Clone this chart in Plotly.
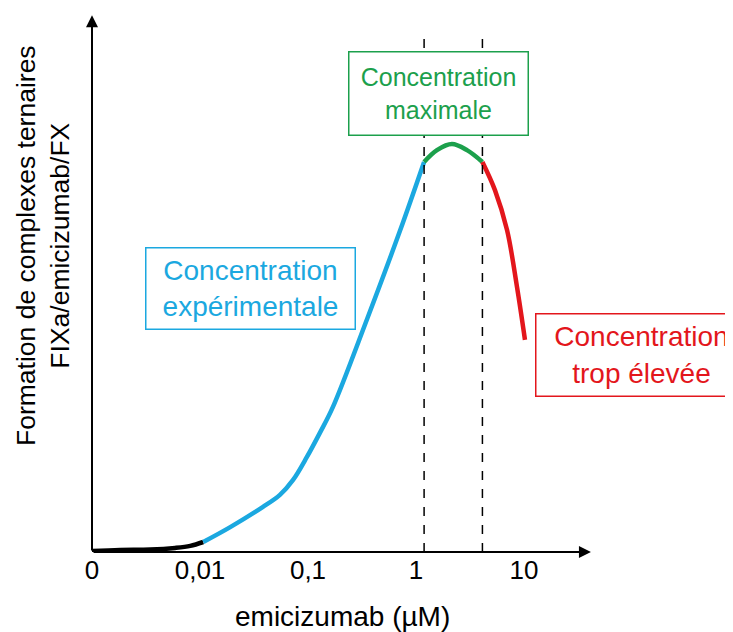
import plotly.graph_objects as go

# x in decades: log10(concentration in µM); "0" is drawn one decade below 0,01
tick_vals = [-3, -2, -1, 0, 1]
tick_text = ["0", "0,01", "0,1", "1", "10"]

# curve segments (y = relative ternary-complex formation, peak = 100)
x_low = [-3, -2.74, -2.46, -2.23, -2.09, -1.97]
y_low = [0.25, 0.5, 0.6, 1.0, 1.5, 2.45]

x_exp = [-1.97, -1.72, -1.42, -1.26, -1.14, -1.01, -0.89, -0.77, -0.45, -0.15, 0.075]
y_exp = [2.45, 6.1, 11.0, 14.0, 17.6, 23.3, 29.2, 35.5, 57.3, 78.6, 95.6]

x_max = [0.075, 0.194, 0.333, 0.472, 0.615]
y_max = [95.6, 98.5, 100, 98.5, 95.6]

x_high = [0.615, 0.731, 0.843, 0.935, 1.009]
y_high = [95.6, 88.7, 78.9, 65.0, 52.0]

dash_x = [0.075, 0.615]

labels = ["Concentration<br>expérimentale",
          "Concentration<br>maximale",
          "Concentration<br>trop élevée"]

BLUE = "#1ba8e0"
GREEN = "#1ca04c"
RED = "#e3161c"
FONT = "Liberation Sans, Arial, sans-serif"

X_RANGE = [-3, -3 + 500 / 108]
Y_RANGE = [0, 538 / 4.08]

fig = go.Figure()

for xs, ys, col in [(x_low, y_low, "black"),
                    (x_exp, y_exp, BLUE),
                    (x_max, y_max, GREEN),
                    (x_high, y_high, RED)]:
    fig.add_trace(go.Scatter(x=xs, y=ys, mode="lines",
                             line=dict(color=col, width=4.5, shape="spline"),
                             hoverinfo="skip", showlegend=False))

# dashed limits of the maximal range
for dx in dash_x:
    fig.add_shape(type="line", x0=dx, x1=dx, y0=0, y1=127.2,
                  line=dict(color="black", width=1.5, dash="dash"))

# axes drawn as arrows
fig.add_annotation(x=X_RANGE[1] - 0.01, y=0, ax=-3, ay=0, axref="x", ayref="y",
                   xref="x", yref="y", text="", showarrow=True,
                   arrowhead=2, arrowsize=1.2, arrowwidth=2, arrowcolor="black")
fig.add_annotation(x=-3, y=Y_RANGE[1] - 0.3, ax=-3, ay=0, axref="x", ayref="y",
                   xref="x", yref="y", text="", showarrow=True,
                   arrowhead=2, arrowsize=1.2, arrowwidth=2, arrowcolor="black")

# labelled boxes
box = dict(showarrow=False, borderpad=0, borderwidth=1.5, bgcolor="white",
           xanchor="center", yanchor="middle")
fig.add_annotation(x=-1.532, y=64.7, xref="x", yref="y", text=labels[0],
                   font=dict(family=FONT, size=28, color=BLUE),
                   width=208, height=80, bordercolor=BLUE, **box)
fig.add_annotation(x=0.204, y=112.5, xref="x", yref="y", text=labels[1],
                   font=dict(family=FONT, size=25, color=GREEN),
                   width=178, height=82, bordercolor=GREEN, **box)
fig.add_annotation(x=(641 - 92) / 500, y=48.3, xref="paper", yref="y", text=labels[2],
                   font=dict(family=FONT, size=28, color=RED),
                   width=210, height=81, bordercolor=RED, **box)

# axis titles
fig.add_annotation(x=0.5, y=(552 - 617) / 538, xref="paper", yref="paper",
                   xanchor="center", yanchor="middle",
                   text="emicizumab (µM)", showarrow=False,
                   font=dict(family=FONT, size=28, color="black"))
fig.add_annotation(x=(43 - 92) / 500, y=(552 - 246) / 538, xref="paper", yref="paper",
                   xanchor="center", yanchor="middle",
                   text="Formation de complexes ternaires<br>FIXa/emicizumab/FX",
                   textangle=-90, showarrow=False,
                   font=dict(family=FONT, size=26.5, color="black"))

fig.update_xaxes(range=X_RANGE, tickvals=tick_vals, ticktext=tick_text,
                 showgrid=False, zeroline=False, showline=False, ticks="",
                 tickfont=dict(family=FONT, size=26, color="black"))
fig.update_yaxes(range=Y_RANGE, showgrid=False, zeroline=False, showline=False,
                 showticklabels=False, ticks="")

# margins leave room for the 8px page margin of the html body
fig.update_layout(width=733, height=632,
                  margin=dict(l=84, r=149, t=6, b=88),
                  plot_bgcolor="white", paper_bgcolor="white",
                  font=dict(family=FONT))

fig.write_html("out.html")
